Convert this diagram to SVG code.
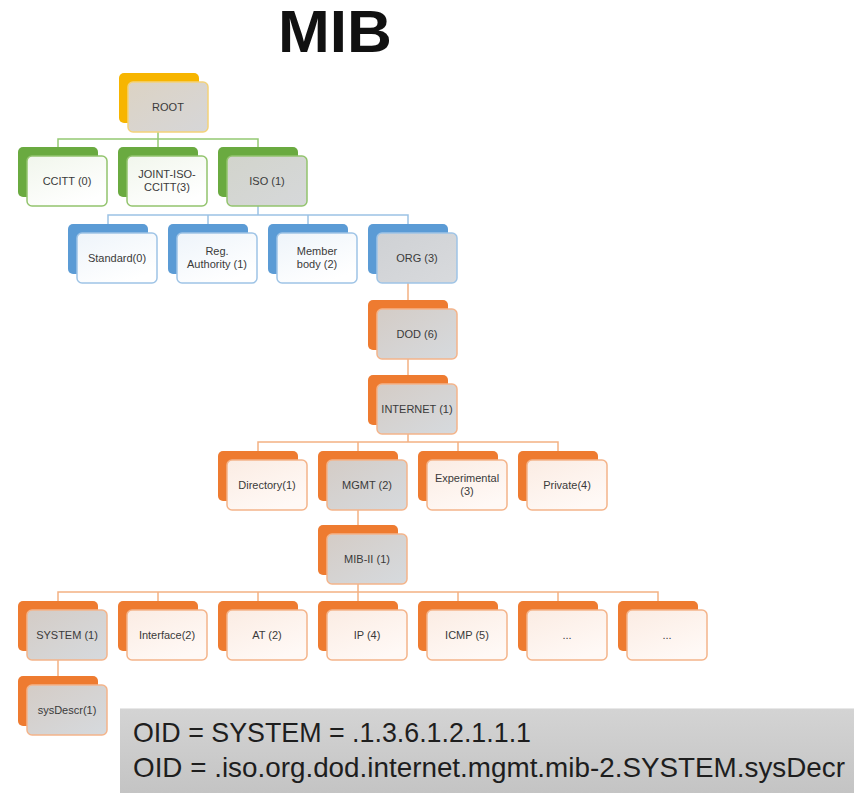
<svg xmlns="http://www.w3.org/2000/svg" width="854" height="793" viewBox="0 0 854 793">
<defs>
<linearGradient id="gGray" x1="0" y1="0" x2="1" y2="1">
<stop offset="0" stop-color="#d4ccc6"/><stop offset="1" stop-color="#d6dade"/>
</linearGradient>
<linearGradient id="gRoot" x1="0" y1="0" x2="1" y2="1">
<stop offset="0" stop-color="#dcd3c4"/><stop offset="1" stop-color="#d6d6d8"/>
</linearGradient>
<linearGradient id="gIso" x1="0" y1="0" x2="1" y2="1">
<stop offset="0" stop-color="#d2d4cc"/><stop offset="1" stop-color="#d6d8da"/>
</linearGradient>
<linearGradient id="gOrg" x1="0" y1="0" x2="1" y2="1">
<stop offset="0" stop-color="#cfd1d4"/><stop offset="1" stop-color="#d8dadd"/>
</linearGradient>
<linearGradient id="gG" x1="0" y1="0" x2="0.6" y2="1">
<stop offset="0" stop-color="#f1f6ec"/><stop offset="1" stop-color="#ffffff"/>
</linearGradient>
<linearGradient id="gB" x1="0" y1="0" x2="0.6" y2="1">
<stop offset="0" stop-color="#eef4fa"/><stop offset="1" stop-color="#ffffff"/>
</linearGradient>
<linearGradient id="gO" x1="0" y1="0" x2="0.6" y2="1">
<stop offset="0" stop-color="#fbece3"/><stop offset="1" stop-color="#fff9f6"/>
</linearGradient>
<linearGradient id="gBox" x1="0" y1="0" x2="0" y2="1">
<stop offset="0" stop-color="#d4d4d4"/><stop offset="1" stop-color="#c4c4c4"/>
</linearGradient>
</defs>
<style>
.bk{rx:5px;ry:5px}
.fr{rx:5px;ry:5px;stroke-width:1.5}
.by{fill:#f7b500}.bg{fill:#6aaa40}.bb{fill:#5b9bd5}.bo{fill:#ee7b30}
.fy{stroke:#f3d27a}.fg{stroke:#93c46e}.fb{stroke:#9fc4e6}.fo{stroke:#f4b48a}
.t{font-family:"Liberation Sans",Arial,sans-serif;font-size:11px;fill:#3a3a3a;text-anchor:middle}
.conn{fill:none;stroke-width:1.5}
</style>
<rect width="854" height="793" fill="#ffffff"/>
<text x="335" y="52" text-anchor="middle" font-family="Liberation Sans,Arial,sans-serif" font-weight="bold" font-size="59" fill="#111111" textLength="114" lengthAdjust="spacingAndGlyphs">MIB</text>

<g id="connectors">
<path class="conn" stroke="#94c973" d="M158 132V139 M58 147V139H258V147 M158 139V147"/>
<path class="conn" stroke="#9cc2e5" d="M258 206V215 M108 224V215H408V224 M208 215V224 M308 215V224"/>
<path class="conn" stroke="#f4b183" d="M408 283V300 M408 359V375 M408 434V442 M258 451V442H558V451 M358 442V451 M458 442V451 M358 510V525 M358 584V592 M58 601V592H658V601 M158 592V601 M258 592V601 M358 592V601 M458 592V601 M558 592V601 M58 660V676"/>
</g>

<g id="n-root"><rect class="bk by" x="119" y="73" width="80" height="50"/><rect class="fr fy" fill="url(#gRoot)" x="128" y="82" width="80" height="50"/><text class="t" x="168" y="111">ROOT</text></g>

<g id="n-ccitt"><rect class="bk bg" x="18" y="147" width="80" height="50"/><rect class="fr fg" fill="url(#gG)" x="27" y="156" width="80" height="50"/><text class="t" x="67" y="185">CCITT (0)</text></g>
<g id="n-joint"><rect class="bk bg" x="118" y="147" width="80" height="50"/><rect class="fr fg" fill="url(#gG)" x="127" y="156" width="80" height="50"/><text class="t" x="167" y="178">JOINT-ISO-</text><text class="t" x="167" y="191">CCITT(3)</text></g>
<g id="n-iso"><rect class="bk bg" x="218" y="147" width="80" height="50"/><rect class="fr fg" fill="url(#gIso)" x="227" y="156" width="80" height="50"/><text class="t" x="267" y="185">ISO (1)</text></g>

<g id="n-standard"><rect class="bk bb" x="68" y="224" width="80" height="50"/><rect class="fr fb" fill="url(#gB)" x="77" y="233" width="80" height="50"/><text class="t" x="117" y="262">Standard(0)</text></g>
<g id="n-reg"><rect class="bk bb" x="168" y="224" width="80" height="50"/><rect class="fr fb" fill="url(#gB)" x="177" y="233" width="80" height="50"/><text class="t" x="217" y="255">Reg.</text><text class="t" x="217" y="268">Authority (1)</text></g>
<g id="n-member"><rect class="bk bb" x="268" y="224" width="80" height="50"/><rect class="fr fb" fill="url(#gB)" x="277" y="233" width="80" height="50"/><text class="t" x="317" y="255">Member</text><text class="t" x="317" y="268">body (2)</text></g>
<g id="n-org"><rect class="bk bb" x="368" y="224" width="80" height="50"/><rect class="fr fb" fill="url(#gOrg)" x="377" y="233" width="80" height="50"/><text class="t" x="417" y="262">ORG (3)</text></g>

<g id="n-dod"><rect class="bk bo" x="368" y="300" width="80" height="50"/><rect class="fr fo" fill="url(#gGray)" x="377" y="309" width="80" height="50"/><text class="t" x="417" y="338">DOD (6)</text></g>
<g id="n-internet"><rect class="bk bo" x="368" y="375" width="80" height="50"/><rect class="fr fo" fill="url(#gGray)" x="377" y="384" width="80" height="50"/><text class="t" x="417" y="413">INTERNET (1)</text></g>

<g id="n-directory"><rect class="bk bo" x="218" y="451" width="80" height="50"/><rect class="fr fo" fill="url(#gO)" x="227" y="460" width="80" height="50"/><text class="t" x="267" y="489">Directory(1)</text></g>
<g id="n-mgmt"><rect class="bk bo" x="318" y="451" width="80" height="50"/><rect class="fr fo" fill="url(#gGray)" x="327" y="460" width="80" height="50"/><text class="t" x="367" y="489">MGMT (2)</text></g>
<g id="n-experimental"><rect class="bk bo" x="418" y="451" width="80" height="50"/><rect class="fr fo" fill="url(#gO)" x="427" y="460" width="80" height="50"/><text class="t" x="467" y="482">Experimental</text><text class="t" x="467" y="495">(3)</text></g>
<g id="n-private"><rect class="bk bo" x="518" y="451" width="80" height="50"/><rect class="fr fo" fill="url(#gO)" x="527" y="460" width="80" height="50"/><text class="t" x="567" y="489">Private(4)</text></g>

<g id="n-mib2"><rect class="bk bo" x="318" y="525" width="80" height="50"/><rect class="fr fo" fill="url(#gGray)" x="327" y="534" width="80" height="50"/><text class="t" x="367" y="563">MIB-II (1)</text></g>

<g id="n-system"><rect class="bk bo" x="18" y="601" width="80" height="50"/><rect class="fr fo" fill="url(#gGray)" x="27" y="610" width="80" height="50"/><text class="t" x="67" y="639">SYSTEM (1)</text></g>
<g id="n-interface"><rect class="bk bo" x="118" y="601" width="80" height="50"/><rect class="fr fo" fill="url(#gO)" x="127" y="610" width="80" height="50"/><text class="t" x="167" y="639">Interface(2)</text></g>
<g id="n-at"><rect class="bk bo" x="218" y="601" width="80" height="50"/><rect class="fr fo" fill="url(#gO)" x="227" y="610" width="80" height="50"/><text class="t" x="267" y="639">AT (2)</text></g>
<g id="n-ip"><rect class="bk bo" x="318" y="601" width="80" height="50"/><rect class="fr fo" fill="url(#gO)" x="327" y="610" width="80" height="50"/><text class="t" x="367" y="639">IP (4)</text></g>
<g id="n-icmp"><rect class="bk bo" x="418" y="601" width="80" height="50"/><rect class="fr fo" fill="url(#gO)" x="427" y="610" width="80" height="50"/><text class="t" x="467" y="639">ICMP (5)</text></g>
<g id="n-more1"><rect class="bk bo" x="518" y="601" width="80" height="50"/><rect class="fr fo" fill="url(#gO)" x="527" y="610" width="80" height="50"/><text class="t" x="567" y="639" fill="#808080">...</text></g>
<g id="n-more2"><rect class="bk bo" x="618" y="601" width="80" height="50"/><rect class="fr fo" fill="url(#gO)" x="627" y="610" width="80" height="50"/><text class="t" x="667" y="639" fill="#808080">...</text></g>

<g id="n-sysdescr"><rect class="bk bo" x="18" y="676" width="80" height="50"/><rect class="fr fo" fill="url(#gGray)" x="27" y="685" width="80" height="50"/><text class="t" x="67" y="714">sysDescr(1)</text></g>

<g id="oid-box">
<rect x="120" y="708" width="734" height="85" fill="url(#gBox)"/>
<line x1="120" y1="708.5" x2="854" y2="708.5" stroke="#e8e8e8" stroke-width="1"/>
<text x="133" y="742" font-family="Liberation Sans,Arial,sans-serif" font-size="27.5" fill="#1e1e1e" textLength="398" lengthAdjust="spacingAndGlyphs">OID = SYSTEM = .1.3.6.1.2.1.1.1</text>
<text x="133" y="777" font-family="Liberation Sans,Arial,sans-serif" font-size="27.5" fill="#1e1e1e" textLength="712" lengthAdjust="spacingAndGlyphs">OID = .iso.org.dod.internet.mgmt.mib-2.SYSTEM.sysDecr</text>
</g>
</svg>
